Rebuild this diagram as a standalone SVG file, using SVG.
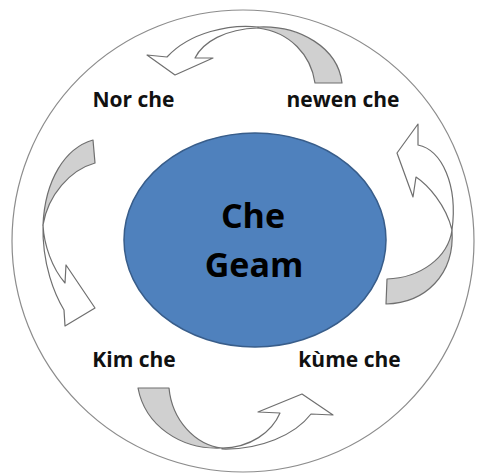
<svg xmlns="http://www.w3.org/2000/svg" width="480" height="476" viewBox="0 0 480 476">
<style>
.ring{fill:none;stroke:#8c8c8c;stroke-width:1.2}
.under{fill:#d0d0d0;stroke:#6f6f6f;stroke-width:1.2;stroke-linejoin:round}
.top{fill:#ffffff;stroke:#6f6f6f;stroke-width:1.2;stroke-linejoin:round}
.lbl{font-family:"Open Sans","Liberation Sans",sans-serif;font-weight:bold;font-size:21px;fill:#111;text-anchor:middle}
.ctr{font-family:"Open Sans","Liberation Sans",sans-serif;font-weight:bold;font-size:34px;fill:#000;text-anchor:middle}
</style>
<rect width="480" height="476" fill="#fff"/>
<circle class="ring" cx="243" cy="241" r="231"/>
<g id="connectors">
  <g id="arrow-top">
    <path class="under" d="M258,27 C300,25 338,48 342,83 L315,83 C311,55 290,32 258,28 Z"/>
    <path class="top" d="M258,27 C230,24 190,32 167,57 L147,55 L175,75 L213,58 L195,58 C203,42 225,29 258,28 Z"/>
  </g>
  <g id="arrow-right">
    <path class="under" d="M452,230 C448,258 420,278 387,279 L386,304 C425,303 455,275 452,230 Z"/>
    <path class="top" d="M452,230 C458,185 442,150 418,145 L418,124 L397,153 L413,197 L416,177 C428,185 446,205 452,230 Z"/>
  </g>
  <g id="arrow-left">
    <path class="under" d="M43,225 C45,180 65,148 93,140 L95,163 C70,170 48,195 43,225 Z"/>
    <path class="top" d="M43,225 C42,265 55,295 64,310 L65,326 L95,308 L66,265 L65,283 C52,268 44,245 43,225 Z"/>
  </g>
  <g id="arrow-bottom">
    <path class="under" d="M138,388 L169,388 C172,420 195,445 222,448 C180,450 145,425 138,388 Z"/>
    <path class="top" d="M222,449 C260,450 295,435 311,414 L333,415 L302,394 L258,412 L280,413 C272,432 250,448 222,448 Z"/>
  </g>
</g>
<g id="node-center">
  <ellipse cx="255" cy="240" rx="131" ry="107" fill="#4f81bd" stroke="#385d8a" stroke-width="1.5"/>
  <text class="ctr" x="253" y="228">Che</text>
  <text class="ctr" x="254" y="277">Geam</text>
</g>
<g id="node-nor"><text class="lbl" x="133.5" y="107">Nor che</text></g>
<g id="node-newen"><text class="lbl" x="343" y="107">newen che</text></g>
<g id="node-kim"><text class="lbl" x="134" y="367">Kim che</text></g>
<g id="node-kume"><text class="lbl" x="349.5" y="367">kùme che</text></g>
</svg>
